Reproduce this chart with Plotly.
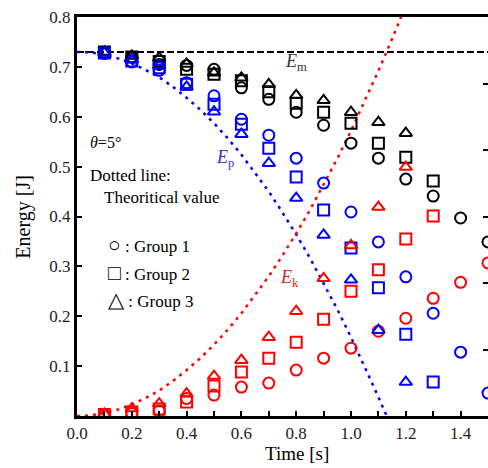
import plotly.graph_objects as go

# ---------------- data ----------------
t_meas = [0.1, 0.2, 0.3, 0.4, 0.5, 0.6, 0.7, 0.8, 0.9, 1.0, 1.1, 1.2, 1.3, 1.4, 1.5]

# Group 1 (circles)
g1_em = [0.728, 0.720, 0.705, 0.703, 0.695, 0.658, 0.635, 0.609, 0.583, 0.547, 0.517, 0.475, 0.441, 0.397, 0.349]
g1_ep = [0.727, 0.710, 0.693, 0.668, 0.642, 0.595, 0.563, 0.517, 0.467, 0.409, 0.349, 0.279, 0.206, 0.128, 0.046]
g1_ek = [0.002, 0.005, 0.010, 0.035, 0.042, 0.058, 0.066, 0.092, 0.116, 0.136, 0.170, 0.196, 0.236, 0.268, 0.307]

# Group 2 (squares)
t_g2 = [0.1, 0.2, 0.3, 0.4, 0.5, 0.6, 0.7, 0.8, 0.9, 1.0, 1.1, 1.2, 1.3]
g2_em = [0.730, 0.720, 0.711, 0.695, 0.685, 0.672, 0.650, 0.627, 0.609, 0.587, 0.547, 0.519, 0.471]
g2_ep = [0.728, 0.712, 0.698, 0.665, 0.625, 0.585, 0.537, 0.479, 0.413, 0.337, 0.257, 0.164, 0.068]
g2_ek = [0.003, 0.008, 0.014, 0.028, 0.060, 0.088, 0.116, 0.148, 0.194, 0.250, 0.293, 0.355, 0.401]

# Group 3 (triangles)
t_g3 = [0.1, 0.2, 0.3, 0.4, 0.5, 0.6, 0.7, 0.8, 0.9, 1.0, 1.1, 1.2]
g3_em = [0.730, 0.722, 0.718, 0.706, 0.688, 0.678, 0.665, 0.643, 0.633, 0.609, 0.589, 0.567]
g3_ep = [0.728, 0.715, 0.703, 0.660, 0.610, 0.565, 0.507, 0.437, 0.363, 0.273, 0.172, 0.068]
g3_ek = [0.004, 0.015, 0.025, 0.045, 0.080, 0.112, 0.158, 0.210, 0.276, 0.342, 0.419, 0.499]

# Theoretical values (dotted lines)
t_th_k = [0.0, 0.05, 0.1, 0.15, 0.2, 0.25, 0.3, 0.35, 0.4, 0.45, 0.5, 0.55, 0.6, 0.65, 0.7,
          0.75, 0.8, 0.85, 0.9, 0.95, 1.0, 1.05, 1.1, 1.15, 1.2]
ek_th = [0.0, 0.001, 0.006, 0.013, 0.023, 0.036, 0.051, 0.070, 0.092, 0.116, 0.143, 0.173, 0.206,
         0.242, 0.280, 0.322, 0.366, 0.413, 0.463, 0.516, 0.572, 0.631, 0.692, 0.756, 0.824]
t_th_p = [0.0, 0.05, 0.1, 0.15, 0.2, 0.25, 0.3, 0.35, 0.4, 0.45, 0.5, 0.55, 0.6, 0.65, 0.7,
          0.75, 0.8, 0.85, 0.9, 0.95, 1.0, 1.05, 1.1, 1.13]
ep_th = [0.730, 0.729, 0.724, 0.717, 0.707, 0.694, 0.679, 0.660, 0.638, 0.614, 0.587, 0.557, 0.524,
         0.488, 0.450, 0.408, 0.364, 0.317, 0.267, 0.214, 0.158, 0.099, 0.038, 0.0]
t_th_m = [0.0, 1.5]
em_th = [0.73, 0.73]

x_tickvals = [0.0, 0.2, 0.4, 0.6, 0.8, 1.0, 1.2, 1.4]
x_ticktext = ["0.0", "0.2", "0.4", "0.6", "0.8", "1.0", "1.2", "1.4"]
x_minorvals = [0.1, 0.3, 0.5, 0.7, 0.9, 1.1, 1.3]
y_tickvals = [0.1, 0.2, 0.3, 0.4, 0.5, 0.6, 0.7, 0.8]
y_ticktext = ["0.1", "0.2", "0.3", "0.4", "0.5", "0.6", "0.7", "0.8"]

FONT = "Liberation Serif, Times New Roman, serif"
BLUE = "#0000ff"
RED = "#ff0000"
BLACK = "#000000"

fig = go.Figure()

# theory lines
fig.add_trace(go.Scatter(x=t_th_m, y=em_th, mode="lines",
                         line=dict(color=BLACK, width=2, dash="7px,3px"), showlegend=False))
fig.add_trace(go.Scatter(x=t_th_p, y=ep_th, mode="lines",
                         line=dict(color=BLUE, width=2.5, dash="3px,5px"), showlegend=False))
fig.add_trace(go.Scatter(x=t_th_k, y=ek_th, mode="lines",
                         line=dict(color=RED, width=2.5, dash="3px,5px"), showlegend=False))

def add_pts(x, y, color, symbol):
    fig.add_trace(go.Scatter(x=x, y=y, mode="markers", showlegend=False,
                             marker=dict(symbol=symbol, size=11, color=color,
                                         line=dict(color=color, width=2))))

for sym, tt, em, ep, ek in [("circle-open", t_meas, g1_em, g1_ep, g1_ek),
                            ("square-open", t_g2, g2_em, g2_ep, g2_ek),
                            ("triangle-up-open", t_g3, g3_em, g3_ep, g3_ek)]:
    add_pts(tt, em, BLACK, sym)
    add_pts(tt, ep, BLUE, sym)
    add_pts(tt, ek, RED, sym)

# right axis ticks (secondary axis, no labels)
fig.add_trace(go.Scatter(x=[None], y=[None], yaxis="y2", showlegend=False))

ann = []
def txt(x, y, s, size=16, color=BLACK, xanchor="left"):
    ann.append(dict(x=x, y=y, xref="x", yref="y", text=s, showarrow=False,
                    xanchor=xanchor, yanchor="middle",
                    font=dict(family=FONT, size=size, color=color)))

SYM = "<span style='font-size:21px'>%s</span>"
txt(0.04, 0.549, "<i>θ</i>=5°")
txt(0.04, 0.483, "Dotted line:", size=17)
txt(0.091, 0.439, "Theoritical value", size=17)
txt(0.105, 0.343, (SYM % "○") + " : Group 1", size=17)
txt(0.105, 0.287, (SYM % "□") + " : Group 2", size=17)
txt(0.105, 0.232, (SYM % "△") + " : Group 3", size=17)
txt(0.80, 0.709, "<i>E</i><sub>m</sub>", size=18, color="#333333", xanchor="center")
txt(0.54, 0.517, "<i>E</i><sub>p</sub>", size=18, color="#3030e0", xanchor="center")
txt(0.777, 0.275, "<i>E</i><sub>k</sub>", size=18, color="#e02020", xanchor="center")

# axis titles (the original frame extends beyond the cropped right edge)
ann.append(dict(x=0.802, y=0, xref="x", yref="paper", yshift=-37, text="Time [s]",
                showarrow=False, xanchor="center", yanchor="middle",
                font=dict(family=FONT, size=19, color=BLACK)))
ann.append(dict(x=-0.131, y=0.5, xref="paper", yref="paper", text="Energy [J]",
                textangle=-90, showarrow=False, xanchor="center", yanchor="middle",
                font=dict(family=FONT, size=20, color=BLACK)))

fig.update_layout(
    width=488, height=468,
    margin=dict(l=77, r=0, t=17, b=52),
    paper_bgcolor="white", plot_bgcolor="white",
    font=dict(family=FONT, size=16, color=BLACK),
    annotations=ann,
    xaxis=dict(range=[0, 1.5], tickvals=x_tickvals, ticktext=x_ticktext,
               ticks="inside", ticklen=5, tickwidth=2, tickcolor=BLACK,
               minor=dict(tickvals=x_minorvals, ticks="inside", ticklen=5, tickwidth=2,
                          tickcolor=BLACK, showgrid=False),
               showline=True, linewidth=3, linecolor=BLACK, mirror=True,
               showgrid=False, zeroline=False,
               tickfont=dict(family=FONT, size=17, color="#222222")),
    yaxis=dict(range=[0, 0.8], tickvals=y_tickvals, ticktext=y_ticktext,
               ticks="inside", ticklen=5, tickwidth=2, tickcolor=BLACK,
               showline=True, linewidth=3, linecolor=BLACK,
               showgrid=False, zeroline=False,
               tickfont=dict(family=FONT, size=17, color="#222222")),
    yaxis2=dict(overlaying="y", side="right", range=[0, 6], tickvals=[1, 2, 3, 4, 5],
                ticks="inside", ticklen=5, tickwidth=2, tickcolor=BLACK,
                showticklabels=False, showline=False, showgrid=False, zeroline=False),
)

fig.write_html("out.html")
